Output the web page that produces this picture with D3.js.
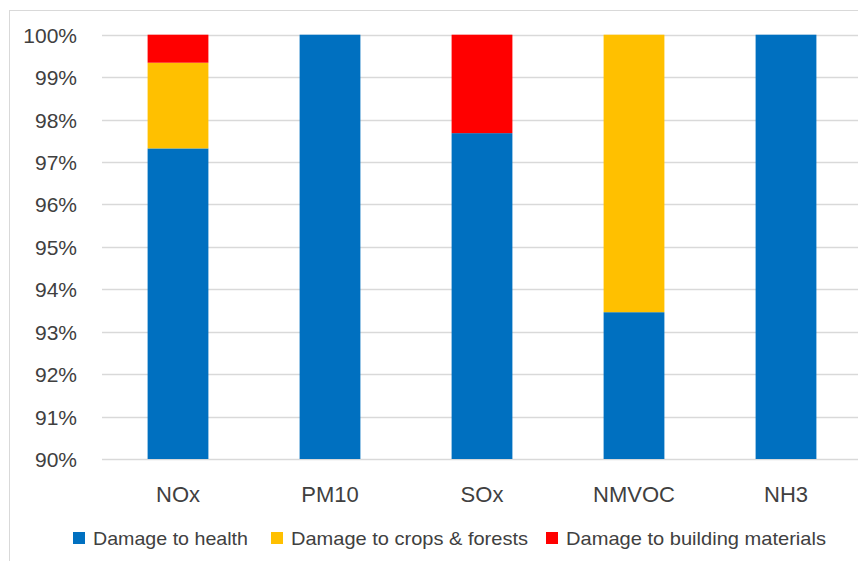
<!DOCTYPE html>
<html>
<head>
<meta charset="utf-8">
<script src="https://cdn.jsdelivr.net/npm/d3@7"></script>
<style>
  html, body { margin: 0; padding: 0; background: #fff; }
  svg { display: block; font-family: "Liberation Sans", "DejaVu Sans", sans-serif; }
</style>
</head>
<body>
<svg id="chart" width="858" height="561"></svg>
<script>
// Pollutants on the x axis
const categories = ["NOx", "PM10", "SOx", "NMVOC", "NH3"];
// Share of damage (%) per pollutant, stacked bottom to top
const health = [97.32, 100, 97.68, 93.46, 100];
const cropsForests = [2.02, 0, 0, 6.54, 0];
const buildingMaterials = [0.66, 0, 2.32, 0, 0];
const seriesNames = ["Damage to health", "Damage to crops & forests", "Damage to building materials"];
const seriesColors = ["#0070C0", "#FFC000", "#FF0000"];
const yTicks = [90, 91, 92, 93, 94, 95, 96, 97, 98, 99, 100];

const svg = d3.select("#chart");
const W = 858, H = 561;
const plot = { left: 102, right: 862, top: 34.7, bottom: 459 };

// chart frame
svg.append("rect").attr("x", 9.5).attr("y", 10.5).attr("width", W).attr("height", H)
  .attr("fill", "none").attr("stroke", "#d9d9d9").attr("stroke-width", 1);

const x = d3.scaleBand().domain(categories).range([plot.left, plot.right]).paddingInner(0.6).paddingOuter(0.3);
const y = d3.scaleLinear().domain([90, 100]).range([plot.bottom, plot.top]);

// gridlines
svg.append("g").selectAll("line").data(yTicks).join("line")
  .attr("x1", plot.left).attr("x2", W)
  .attr("y1", d => Math.round(y(d)) + 0.5).attr("y2", d => Math.round(y(d)) + 0.5)
  .attr("stroke", "#d9d9d9").attr("stroke-width", 1.3);

// y axis labels
const yAxis = d3.axisLeft(y).tickValues(yTicks).tickFormat(d => d + "%").tickSize(0).tickPadding(0);
const gy = svg.append("g").attr("transform", `translate(77,0)`).call(yAxis);
gy.select(".domain").remove();
gy.selectAll("text").attr("font-size", 21).attr("fill", "#404040").attr("dy", "0.36em");

// stacked bars
const rows = categories.map((c, i) => ({ cat: c, health: health[i], crops: cropsForests[i], building: buildingMaterials[i] }));
const stack = d3.stack().keys(["health", "crops", "building"]);
const layers = stack(rows);
svg.append("g").selectAll("g").data(layers).join("g")
  .attr("fill", (d, i) => seriesColors[i])
  .selectAll("rect").data(d => d).join("rect")
  .attr("x", d => x(d.data.cat))
  .attr("width", x.bandwidth())
  .attr("y", d => y(Math.min(100, d[1])))
  .attr("height", d => Math.max(0, y(Math.max(90, d[0])) - y(Math.min(100, d[1]))));

// x axis labels
const xAxis = d3.axisBottom(x).tickSize(0).tickPadding(0);
const gx = svg.append("g").attr("transform", `translate(0,502)`).call(xAxis);
gx.select(".domain").remove();
gx.selectAll("text").attr("font-size", 22).attr("fill", "#404040").attr("dy", "0");

// legend
const legendItems = [
  { name: seriesNames[0], color: seriesColors[0], x: 73, len: 155 },
  { name: seriesNames[1], color: seriesColors[1], x: 271, len: 237 },
  { name: seriesNames[2], color: seriesColors[2], x: 546, len: 260 }
];
const lg = svg.append("g").selectAll("g").data(legendItems).join("g")
  .attr("transform", d => `translate(${d.x},545)`);
lg.append("rect").attr("x", 0).attr("y", -13).attr("width", 12).attr("height", 12).attr("fill", d => d.color);
lg.append("text").attr("x", 20).attr("y", 0)
  .attr("font-size", 19).attr("fill", "#404040")
  .attr("textLength", d => d.len).attr("lengthAdjust", "spacingAndGlyphs")
  .text(d => d.name);
</script>
</body>
</html>
